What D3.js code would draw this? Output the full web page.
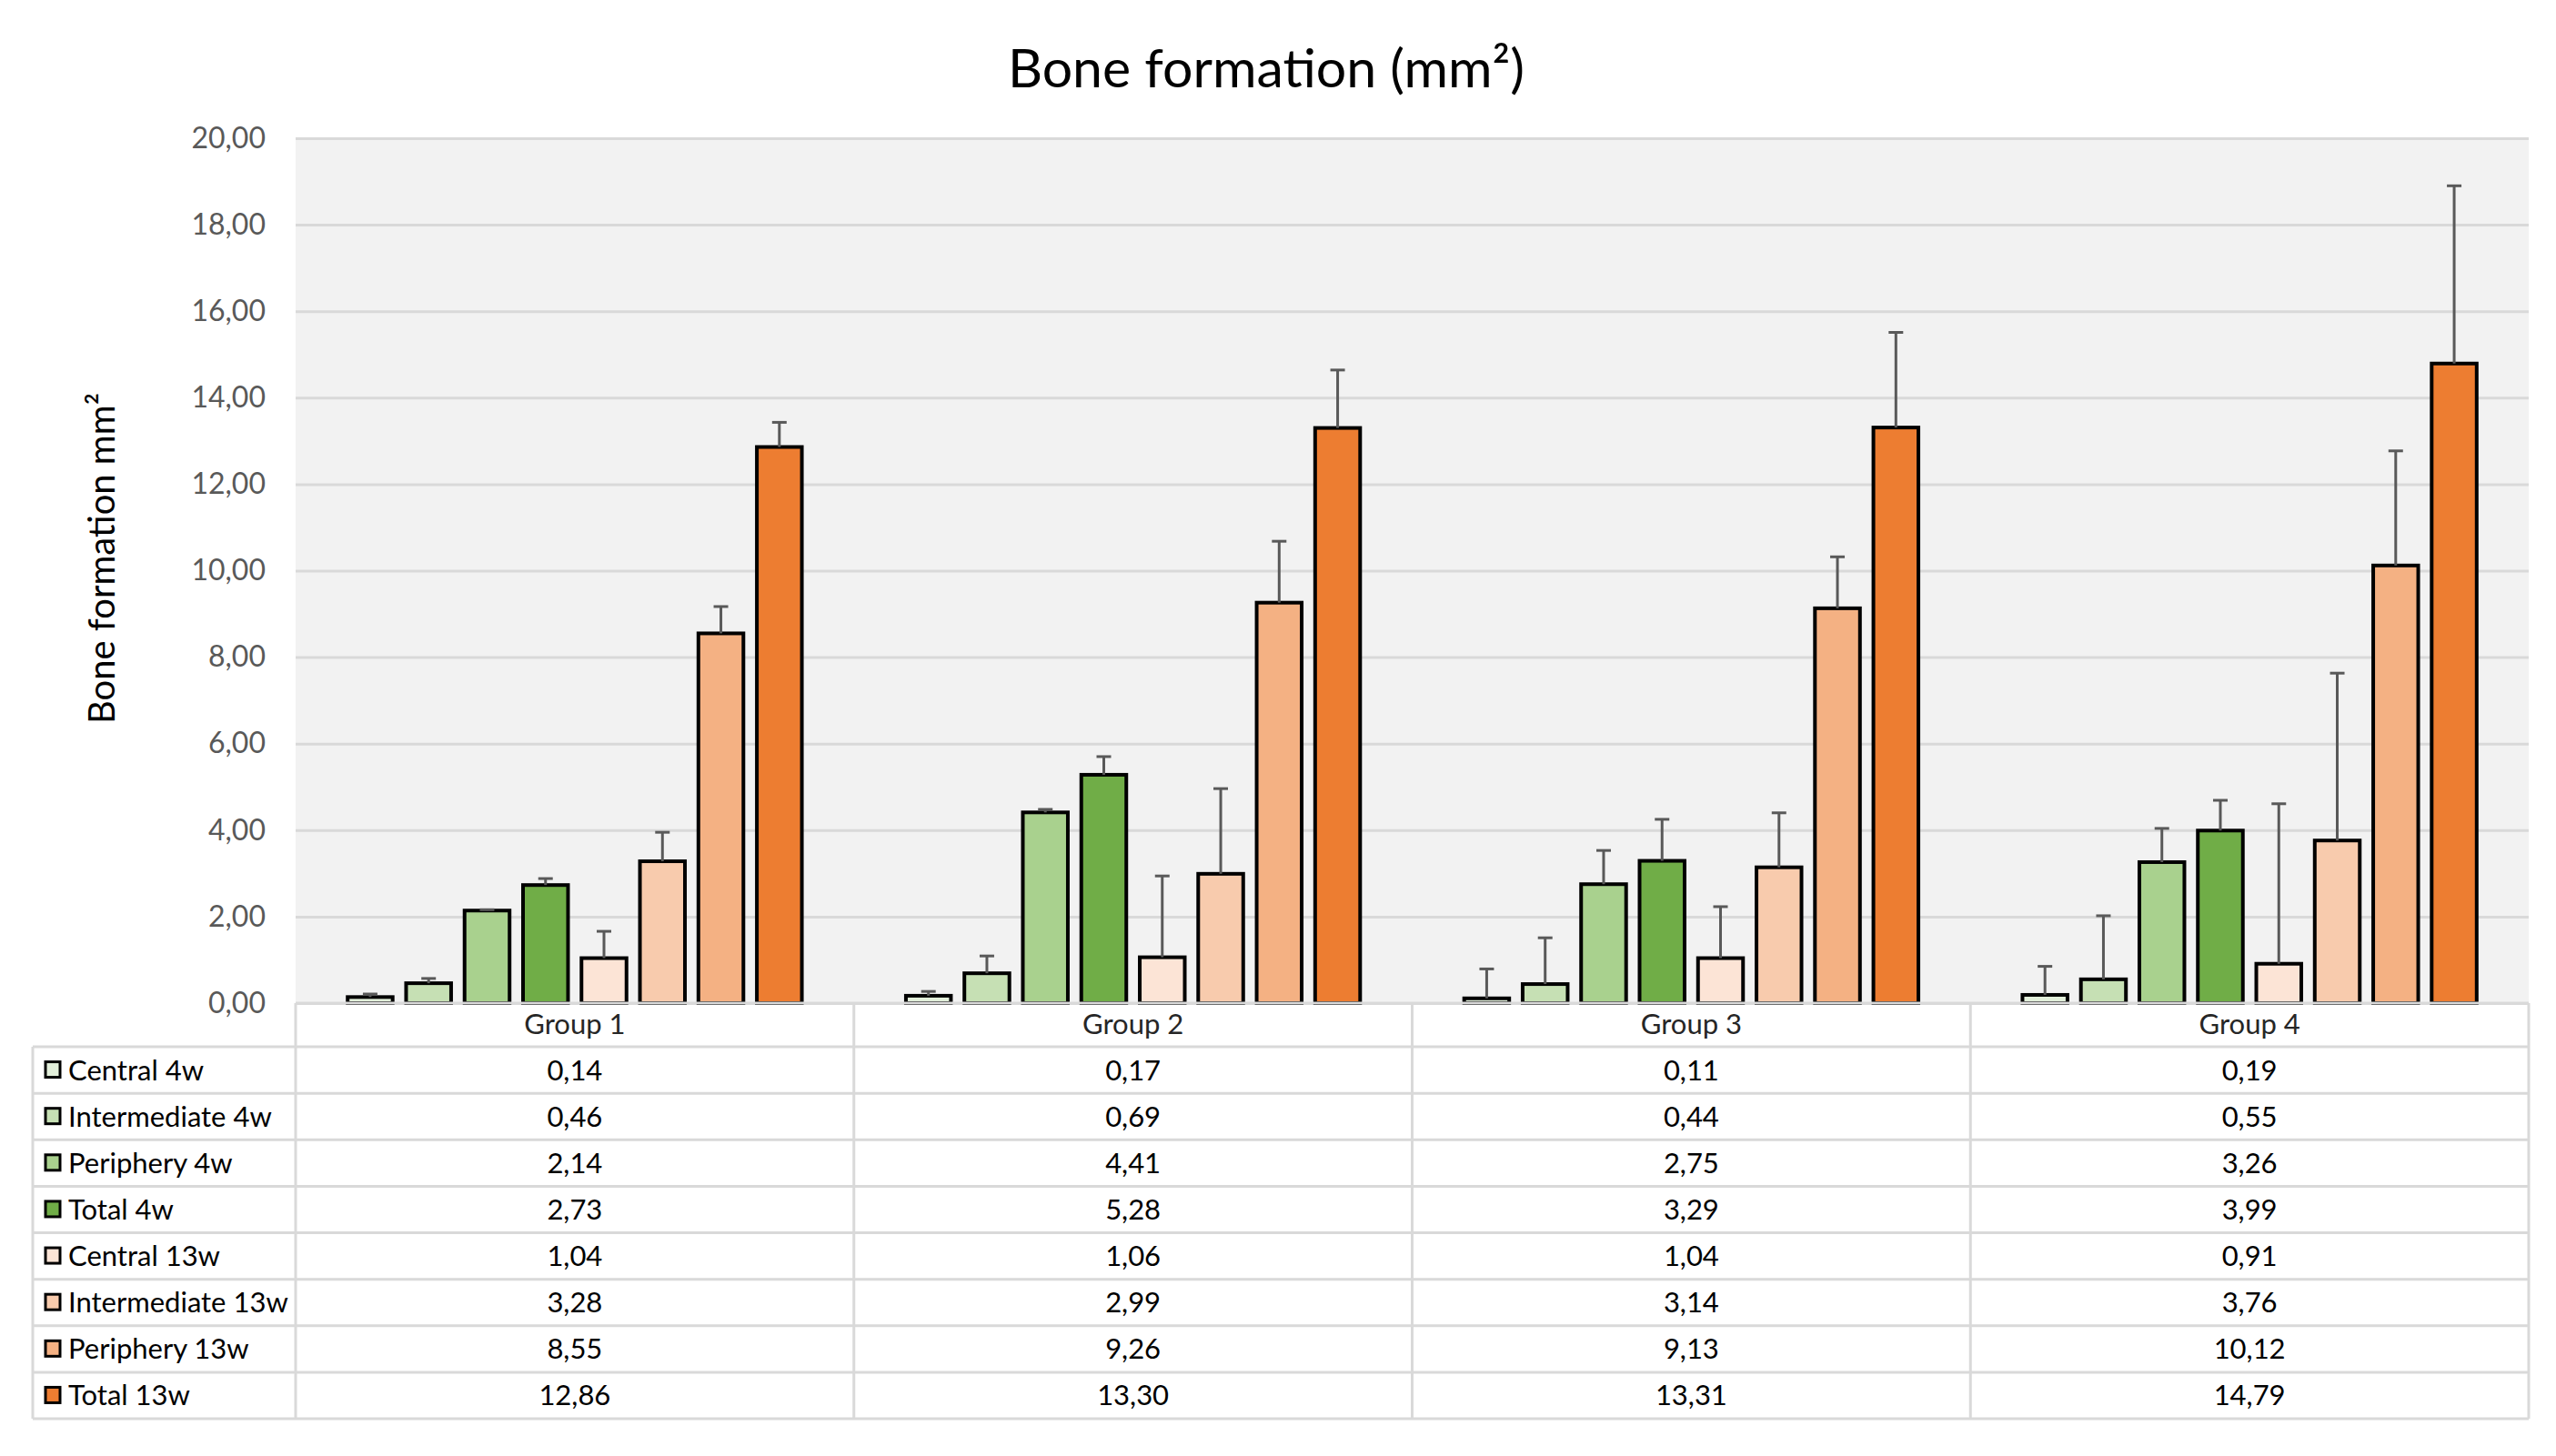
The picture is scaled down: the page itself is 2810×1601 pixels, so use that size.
<!DOCTYPE html>
<html>
<head>
<meta charset="utf-8">
<script src="https://cdn.jsdelivr.net/npm/d3@7"></script>
<style>
  body { margin: 0; background: #fff; }
  svg { display: block; font-family: Lato, "Liberation Sans", sans-serif; }
</style>
</head>
<body>
<div id="chart"></div>
<script>
const groups = ["Group 1", "Group 2", "Group 3", "Group 4"];
const series = ["Central 4w", "Intermediate 4w", "Periphery 4w", "Total 4w",
                "Central 13w", "Intermediate 13w", "Periphery 13w", "Total 13w"];
const seriesColors = ["#e2efda", "#c6e0b4", "#a9d18e", "#70ad47",
                      "#fce4d6", "#f8cbad", "#f4b183", "#ed7d31"];
// one row per series, one value per group
const values = [
    [0.14, 0.17, 0.11, 0.19],
    [0.46, 0.69, 0.44, 0.55],
    [2.14, 4.41, 2.75, 3.26],
    [2.73, 5.28, 3.29, 3.99],
    [1.04, 1.06, 1.04, 0.91],
    [3.28, 2.99, 3.14, 3.76],
    [8.55, 9.26, 9.13, 10.12],
    [12.86, 13.30, 13.31, 14.79]
];
// upper error bars
const errors = [
    [0.07, 0.10, 0.68, 0.66],
    [0.11, 0.40, 1.07, 1.47],
    [0.02, 0.07, 0.78, 0.78],
    [0.15, 0.42, 0.96, 0.70],
    [0.62, 1.88, 1.19, 3.70],
    [0.67, 1.97, 1.26, 3.87],
    [0.62, 1.42, 1.19, 2.65],
    [0.57, 1.34, 2.20, 4.11]
];
const yTicks = [0, 2, 4, 6, 8, 10, 12, 14, 16, 18, 20];

(function() {
    const W = 2810, H = 1601;
    const plot = { left: 325, right: 2780, top: 152, bottom: 1103 };
    const tableLeft = 36, headerBottom = 1151, tableBottom = 1560;
    const grid = "#d9d9d9";
    const fmt = v => d3.format(".2f")(v).replace(".", ",");

    const svg = d3.select("#chart").append("svg")
        .attr("width", W)
        .attr("height", H);

    const x0 = d3.scaleBand()
        .domain(groups)
        .range([plot.left, plot.right]);

    const x1 = d3.scaleBand()
        .domain(series)
        .range([0, x0.bandwidth()])
        .paddingInner(0.23)
        .paddingOuter(0.89);

    const y = d3.scaleLinear()
        .domain([0, 20])
        .range([plot.bottom, plot.top]);

    const rowY = d3.scaleBand()
        .domain(series)
        .range([headerBottom, tableBottom]);

    // plot background
    svg.append("rect")
        .attr("x", plot.left)
        .attr("y", plot.top)
        .attr("width", plot.right - plot.left)
        .attr("height", plot.bottom - plot.top)
        .attr("fill", "#f2f2f2");

    // gridlines + tick labels
    const yAxis = svg.append("g")
        .attr("transform", "translate(" + plot.left + ",0)")
        .call(d3.axisLeft(y).tickValues(yTicks).tickFormat(fmt)
            .tickSize(-(plot.right - plot.left)).tickPadding(33));
    yAxis.select(".domain").remove();
    yAxis.selectAll(".tick line")
        .attr("stroke", grid)
        .attr("stroke-width", 3);
    yAxis.selectAll(".tick text")
        .attr("fill", "#595959")
        .style("font-size", "32px")
        .style("font-family", "Lato, sans-serif");

    // bars
    const barData = groups.flatMap((g, gi) => series.map((s, si) => ({
        group: g, key: s, value: values[si][gi], err: errors[si][gi], color: seriesColors[si]
    })));

    const bars = svg.append("g")
        .selectAll("g")
        .data(barData)
        .join("g")
        .attr("transform", d => "translate(" + (x0(d.group) + x1(d.key)) + ",0)");

    bars.append("rect")
        .attr("x", 0)
        .attr("y", d => y(d.value))
        .attr("width", x1.bandwidth())
        .attr("height", d => y(0) - y(d.value))
        .attr("fill", d => d.color)
        .attr("stroke", "#000")
        .attr("stroke-width", 4);

    // error bars (plus side only)
    const cx = x1.bandwidth() / 2;
    bars.append("line")
        .attr("x1", cx).attr("x2", cx)
        .attr("y1", d => y(d.value))
        .attr("y2", d => y(d.value + d.err))
        .attr("stroke", "#595959")
        .attr("stroke-width", 3);
    bars.append("line")
        .attr("x1", cx - 8).attr("x2", cx + 8)
        .attr("y1", d => y(d.value + d.err))
        .attr("y2", d => y(d.value + d.err))
        .attr("stroke", "#595959")
        .attr("stroke-width", 3);

    // data table
    const table = svg.append("g")
        .attr("stroke", grid)
        .attr("stroke-width", 3);

    table.selectAll(".hline")
        .data(series.map(s => rowY(s)).concat([tableBottom]))
        .join("line")
        .attr("x1", tableLeft).attr("x2", plot.right)
        .attr("y1", d => d).attr("y2", d => d);

    table.append("line")
        .attr("x1", plot.left).attr("x2", plot.right)
        .attr("y1", plot.bottom).attr("y2", plot.bottom);

    table.append("line")
        .attr("x1", tableLeft).attr("x2", tableLeft)
        .attr("y1", headerBottom).attr("y2", tableBottom);

    table.selectAll(".vline")
        .data(groups.map(g => x0(g)).concat([plot.right]))
        .join("line")
        .attr("x1", d => d).attr("x2", d => d)
        .attr("y1", plot.bottom).attr("y2", tableBottom);

    // group headers
    svg.append("g")
        .selectAll("text")
        .data(groups)
        .join("text")
        .attr("x", d => x0(d) + x0.bandwidth() / 2)
        .attr("y", (plot.bottom + headerBottom) / 2 + 10)
        .attr("text-anchor", "middle")
        .attr("fill", "#262626")
        .style("font-size", "31px")
        .text(d => d);

    // row labels with legend keys
    const rows = svg.append("g")
        .selectAll("g")
        .data(series)
        .join("g")
        .attr("transform", d => "translate(0," + (rowY(d) + rowY.bandwidth() / 2) + ")");

    rows.append("rect")
        .attr("x", 50)
        .attr("y", -9)
        .attr("width", 16)
        .attr("height", 17)
        .attr("fill", (d, i) => seriesColors[i])
        .attr("stroke", "#000")
        .attr("stroke-width", 3);

    rows.append("text")
        .attr("x", 75)
        .attr("y", 11)
        .attr("fill", "#000")
        .style("font-size", "31px")
        .text(d => d);

    // values
    svg.append("g")
        .selectAll("text")
        .data(barData)
        .join("text")
        .attr("x", d => x0(d.group) + x0.bandwidth() / 2)
        .attr("y", d => rowY(d.key) + rowY.bandwidth() / 2 + 11)
        .attr("text-anchor", "middle")
        .attr("fill", "#000")
        .style("font-size", "31px")
        .text(d => fmt(d.value));

    // titles
    svg.append("text")
        .attr("x", 1392)
        .attr("y", 96)
        .attr("text-anchor", "middle")
        .attr("fill", "#000")
        .style("font-size", "59px")
        .text("Bone formation (mm²)");

    svg.append("text")
        .attr("transform", "translate(126,614) rotate(-90)")
        .attr("text-anchor", "middle")
        .attr("fill", "#000")
        .style("font-size", "40px")
        .text("Bone formation mm²");
})();
</script>
</body>
</html>
